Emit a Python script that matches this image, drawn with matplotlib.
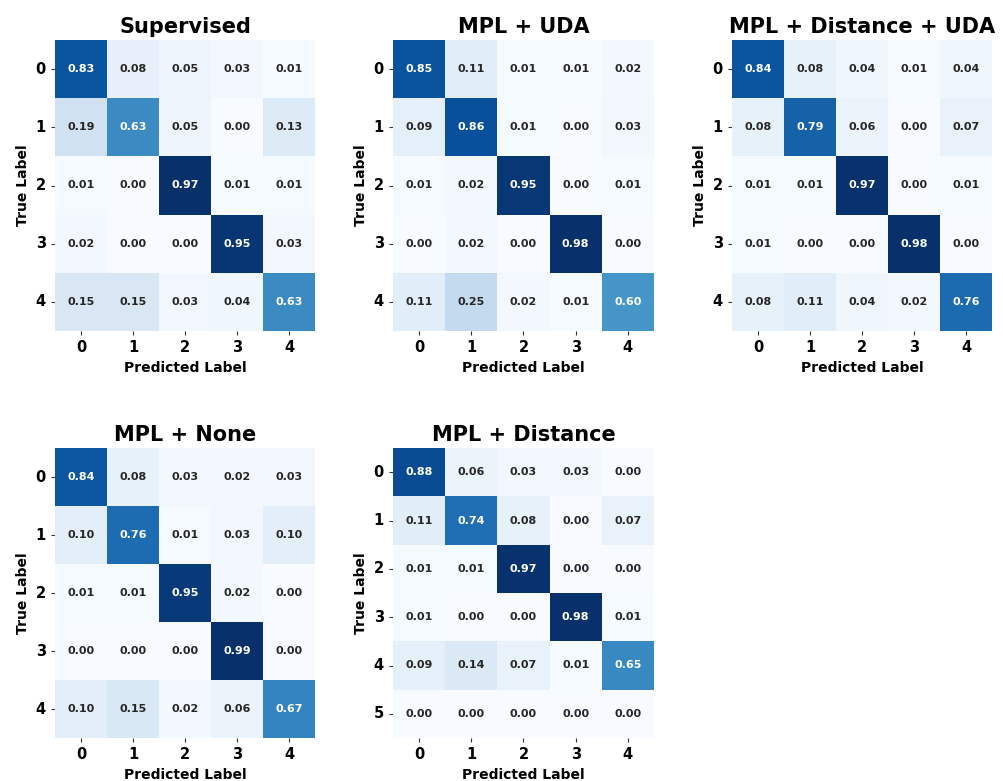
import matplotlib
matplotlib.use("Agg")
import matplotlib.pyplot as plt
import numpy as np
import seaborn as sns

TITLES = ["Supervised", "MPL + UDA", "MPL + Distance + UDA", "MPL + None", "MPL + Distance"]

CM_SUPERVISED = [
    [0.83, 0.08, 0.05, 0.03, 0.01],
    [0.19, 0.63, 0.05, 0.00, 0.13],
    [0.01, 0.00, 0.97, 0.01, 0.01],
    [0.02, 0.00, 0.00, 0.95, 0.03],
    [0.15, 0.15, 0.03, 0.04, 0.63],
]
CM_MPL_UDA = [
    [0.85, 0.11, 0.01, 0.01, 0.02],
    [0.09, 0.86, 0.01, 0.00, 0.03],
    [0.01, 0.02, 0.95, 0.00, 0.01],
    [0.00, 0.02, 0.00, 0.98, 0.00],
    [0.11, 0.25, 0.02, 0.01, 0.60],
]
CM_MPL_DIST_UDA = [
    [0.84, 0.08, 0.04, 0.01, 0.04],
    [0.08, 0.79, 0.06, 0.00, 0.07],
    [0.01, 0.01, 0.97, 0.00, 0.01],
    [0.01, 0.00, 0.00, 0.98, 0.00],
    [0.08, 0.11, 0.04, 0.02, 0.76],
]
CM_MPL_NONE = [
    [0.84, 0.08, 0.03, 0.02, 0.03],
    [0.10, 0.76, 0.01, 0.03, 0.10],
    [0.01, 0.01, 0.95, 0.02, 0.00],
    [0.00, 0.00, 0.00, 0.99, 0.00],
    [0.10, 0.15, 0.02, 0.06, 0.67],
]
CM_MPL_DIST = [
    [0.88, 0.06, 0.03, 0.03, 0.00],
    [0.11, 0.74, 0.08, 0.00, 0.07],
    [0.01, 0.01, 0.97, 0.00, 0.00],
    [0.01, 0.00, 0.00, 0.98, 0.01],
    [0.09, 0.14, 0.07, 0.01, 0.65],
    [0.00, 0.00, 0.00, 0.00, 0.00],
]
MATRICES = [CM_SUPERVISED, CM_MPL_UDA, CM_MPL_DIST_UDA, CM_MPL_NONE, CM_MPL_DIST]

# axes boxes in pixels (left, top, right, bottom) on a 1004x781 canvas
W, H = 1004, 781
BOXES = [
    (55, 40, 315, 331),
    (393, 40, 654, 331),
    (732, 40, 992, 331),
    (55, 448, 315, 738),
    (393, 448, 654, 738),
]

sns.set_style("white")
plt.rcParams.update({
    "font.family": ["DejaVu Sans"],
    "text.color": "black",
    "axes.labelcolor": "black",
    "xtick.color": "#333333",
    "ytick.color": "#333333",
    "xtick.labelcolor": "black",
    "ytick.labelcolor": "black",
})

fig = plt.figure(figsize=(W / 100, H / 100), dpi=100)

for title, cm, (l, t, r, b) in zip(TITLES, MATRICES, BOXES):
    ax = fig.add_axes([l / W, 1 - b / H, (r - l) / W, (b - t) / H])
    cm = np.array(cm)
    sns.heatmap(cm, ax=ax, cmap="Blues", annot=True, fmt=".2f", cbar=False,
                annot_kws={"fontsize": 8, "fontweight": "bold"})
    ax.set_title(title, fontsize=15, fontweight="bold", pad=5, color="black")
    ax.set_xlabel("Predicted Label", fontsize=10, fontweight="bold")
    ax.set_ylabel("True Label", fontsize=10, fontweight="bold")
    ax.set_xticks(np.arange(cm.shape[1]) + 0.5)
    ax.set_xticklabels([str(i) for i in range(cm.shape[1])], fontsize=10.5, fontweight="bold")
    ax.set_yticks(np.arange(cm.shape[0]) + 0.5)
    ax.set_yticklabels([str(i) for i in range(cm.shape[0])], fontsize=10.5, fontweight="bold", rotation=0)
    ax.tick_params(axis="both", length=3, width=0.8, bottom=True, left=True)

fig.savefig("out.png", dpi=100, facecolor="white")
